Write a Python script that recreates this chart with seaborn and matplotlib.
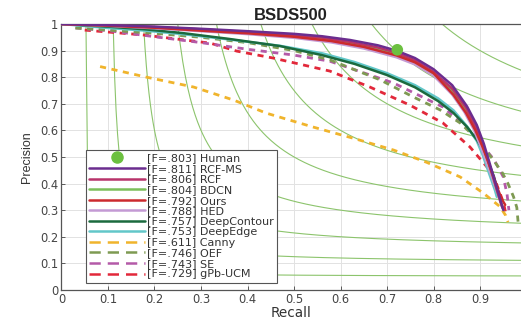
import numpy as np
import pandas as pd
import seaborn as sns
import matplotlib.pyplot as plt
from matplotlib.lines import Line2D

# PR curves (recall, precision)
human_r, human_p = [0.722], [0.903]

rcfms_r = [0, 0.1, 0.2, 0.3, 0.4, 0.5, 0.56, 0.62, 0.68, 0.72, 0.76, 0.8, 0.84, 0.872, 0.893, 0.908, 0.92, 0.93, 0.94, 0.95]
rcfms_p = [1.0, 0.996, 0.99, 0.982, 0.973, 0.963, 0.954, 0.94, 0.92, 0.9, 0.872, 0.83, 0.77, 0.69, 0.62, 0.55, 0.48, 0.42, 0.36, 0.30]

rcf_r = [0, 0.1, 0.2, 0.3, 0.4, 0.5, 0.56, 0.62, 0.68, 0.72, 0.76, 0.8, 0.84, 0.87, 0.89, 0.905, 0.918, 0.928, 0.938, 0.948]
rcf_p = [1.0, 0.995, 0.989, 0.98, 0.97, 0.959, 0.949, 0.933, 0.912, 0.892, 0.864, 0.82, 0.757, 0.685, 0.615, 0.55, 0.48, 0.425, 0.365, 0.31]

bdcn_r = [0, 0.1, 0.2, 0.3, 0.4, 0.5, 0.56, 0.62, 0.68, 0.72, 0.76, 0.8, 0.84, 0.87, 0.89, 0.905, 0.918, 0.928, 0.938, 0.948]
bdcn_p = [1.0, 0.995, 0.988, 0.978, 0.968, 0.956, 0.946, 0.929, 0.906, 0.886, 0.858, 0.815, 0.75, 0.678, 0.61, 0.545, 0.48, 0.425, 0.365, 0.31]

ours_r = [0, 0.1, 0.2, 0.3, 0.4, 0.5, 0.58, 0.65, 0.72, 0.76, 0.8, 0.843, 0.87, 0.89, 0.905, 0.918, 0.928, 0.938, 0.947, 0.954]
ours_p = [1.0, 0.994, 0.986, 0.975, 0.965, 0.952, 0.936, 0.914, 0.882, 0.856, 0.815, 0.733, 0.665, 0.6, 0.54, 0.48, 0.43, 0.38, 0.34, 0.32]

hed_r = [0, 0.1, 0.2, 0.3, 0.4, 0.5, 0.58, 0.65, 0.72, 0.76, 0.8, 0.84, 0.866, 0.886, 0.9, 0.913, 0.924, 0.934, 0.942, 0.948]
hed_p = [1.0, 0.993, 0.984, 0.973, 0.962, 0.948, 0.931, 0.908, 0.875, 0.848, 0.806, 0.735, 0.67, 0.605, 0.545, 0.485, 0.43, 0.38, 0.34, 0.31]

dcont_r = [0, 0.1, 0.18, 0.26, 0.36, 0.47, 0.56, 0.63, 0.7, 0.76, 0.81, 0.843, 0.872, 0.893, 0.907, 0.918, 0.93, 0.937, 0.943]
dcont_p = [1.0, 0.99, 0.98, 0.966, 0.944, 0.917, 0.883, 0.85, 0.808, 0.762, 0.71, 0.665, 0.613, 0.565, 0.525, 0.48, 0.425, 0.38, 0.34]

dedge_r = [0, 0.1, 0.18, 0.26, 0.36, 0.47, 0.56, 0.63, 0.7, 0.76, 0.81, 0.843, 0.872, 0.893, 0.905, 0.915, 0.925, 0.932, 0.936]
dedge_p = [1.0, 0.985, 0.975, 0.962, 0.942, 0.918, 0.89, 0.857, 0.815, 0.77, 0.72, 0.675, 0.615, 0.56, 0.51, 0.46, 0.41, 0.375, 0.35]

canny_r = [0.083, 0.183, 0.284, 0.37, 0.44, 0.54, 0.628, 0.714, 0.785, 0.857, 0.907, 0.943, 0.955, 0.96]
canny_p = [0.84, 0.80, 0.763, 0.714, 0.665, 0.613, 0.57, 0.526, 0.48, 0.425, 0.364, 0.313, 0.28, 0.255]

oef_r = [0.03, 0.1, 0.2, 0.3, 0.4, 0.5, 0.577, 0.685, 0.756, 0.814, 0.857, 0.895, 0.928, 0.948, 0.96, 0.972, 0.979, 0.982]
oef_p = [0.985, 0.977, 0.965, 0.95, 0.93, 0.9, 0.865, 0.79, 0.726, 0.677, 0.628, 0.565, 0.49, 0.44, 0.40, 0.35, 0.31, 0.25]

se_r = [0.03, 0.1, 0.21, 0.3, 0.4, 0.5, 0.577, 0.714, 0.82, 0.878, 0.93, 0.95, 0.958, 0.962]
se_p = [0.985, 0.975, 0.95, 0.93, 0.905, 0.883, 0.86, 0.778, 0.688, 0.60, 0.49, 0.425, 0.36, 0.30]

gpb_r = [0.05, 0.175, 0.32, 0.377, 0.455, 0.577, 0.663, 0.749, 0.82, 0.878, 0.915, 0.935, 0.95, 0.955]
gpb_p = [0.977, 0.959, 0.928, 0.898, 0.872, 0.823, 0.763, 0.695, 0.628, 0.538, 0.462, 0.40, 0.33, 0.29]

labels = ["[F=.811] RCF-MS", "[F=.806] RCF", "[F=.804] BDCN", "[F=.792] Ours",
          "[F=.788] HED", "[F=.757] DeepContour", "[F=.753] DeepEdge",
          "[F=.611] Canny", "[F=.746] OEF", "[F=.743] SE", "[F=.729] gPb-UCM"]
human_label = "[F=.803] Human"
colors = ["#6b2d8f", "#b8336a", "#7cbf5a", "#cc2a2e", "#c49ad4", "#1b6a3e",
          "#62c7c9", "#f0b42c", "#7e9a52", "#b45aa8", "#e2283a"]
dashed = [False] * 7 + [True] * 4
curves = [(rcfms_r, rcfms_p), (rcf_r, rcf_p), (bdcn_r, bdcn_p), (ours_r, ours_p),
          (hed_r, hed_p), (dcont_r, dcont_p), (dedge_r, dedge_p),
          (canny_r, canny_p), (oef_r, oef_p), (se_r, se_p), (gpb_r, gpb_p)]
iso_f = [0.1, 0.2, 0.3, 0.4, 0.5, 0.6, 0.7, 0.8, 0.9]
xticks = [0, 0.1, 0.2, 0.3, 0.4, 0.5, 0.6, 0.7, 0.8, 0.9]
xtick_labels = ["0", "0.1", "0.2", "0.3", "0.4", "0.5", "0.6", "0.7", "0.8", "0.9"]
yticks = [0, 0.1, 0.2, 0.3, 0.4, 0.5, 0.6, 0.7, 0.8, 0.9, 1]
ytick_labels = ["0", "0.1", "0.2", "0.3", "0.4", "0.5", "0.6", "0.7", "0.8", "0.9", "1"]

sns.set_style("ticks")
plt.rcParams["font.family"] = ["DejaVu Sans"]

fig = plt.figure(figsize=(5.21, 3.2), dpi=100)
ax = fig.add_axes([0.118, 0.094, 0.882, 0.831])

# iso-F contours
for f in iso_f:
    r = np.linspace(f / (2 - f), 1.05, 300)
    p = f * r / (2 * r - f)
    ax.plot(r, p, color="#8cc46c", lw=0.8, zorder=1)

# dashed curves below, solid on top
order = [10, 9, 8, 7, 6, 5, 4, 2, 1, 3, 0]
for i in order:
    r, p = curves[i]
    df = pd.DataFrame({"Recall": r, "Precision": p})
    sns.lineplot(data=df, x="Recall", y="Precision", ax=ax, sort=False,
                 color=colors[i], lw=2.0 if dashed[i] else 1.8,
                 dashes=False, zorder=3 if not dashed[i] else 2,
                 **({"linestyle": (0, (2.2, 2.0))} if dashed[i] else {}))

sns.scatterplot(x=human_r, y=human_p, ax=ax, color="#6cc040", s=70,
                edgecolor="none", zorder=4)

ax.set_xlim(0, 0.988)
ax.set_ylim(0, 1)
ax.set_xticks(xticks)
ax.set_xticklabels(xtick_labels)
ax.set_yticks(yticks)
ax.set_yticklabels(ytick_labels)
ax.grid(True, color="#e2e2e2", lw=0.7, zorder=0)
ax.tick_params(direction="in", length=3, labelsize=8.3, colors="#444444",
               width=0.6, pad=2.5)
for s in ["left", "bottom", "top"]:
    ax.spines[s].set_color("#555555")
    ax.spines[s].set_linewidth(0.9)
    ax.spines[s].set_visible(True)
ax.spines["right"].set_visible(False)

ax.set_xlabel("Recall", fontsize=9.8, color="#333333", labelpad=-0.5)
ax.set_ylabel("Precision", fontsize=9, color="#333333", labelpad=5,
              family=["Liberation Sans Narrow", "Liberation Sans"])
ax.set_title("BSDS500", fontsize=12, fontweight="bold", color="#222222", pad=3,
             family=["Liberation Sans"])

handles = [Line2D([], [], ls="none", marker="o", ms=8, color="#6cc040")]
for i in range(11):
    handles.append(Line2D([], [], color=colors[i], lw=1.8,
                          linestyle=(0, (4.5, 2.8)) if dashed[i] else "-"))
leg = ax.legend(handles, [human_label] + labels, loc="upper left",
                bbox_to_anchor=(0.053, 0.526), borderaxespad=0, fontsize=8.0,
                handlelength=5.0, labelspacing=0.05, handletextpad=0.2,
                fancybox=False, framealpha=1, edgecolor="#555555",
                borderpad=0.3)
leg.get_frame().set_linewidth(0.8)
for t in leg.get_texts():
    t.set_color("#333333")

fig.savefig("out.png", dpi=100)
